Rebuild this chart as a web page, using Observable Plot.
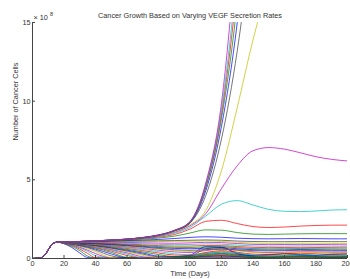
<!DOCTYPE html>
<html><head><meta charset="utf-8">
<script src="https://cdn.jsdelivr.net/npm/d3@7"></script>
<script src="https://cdn.jsdelivr.net/npm/@observablehq/plot@0.6"></script>
<style>body{margin:0;background:#fff}</style>
</head><body><div id="chart"></div>
<script>
const titleText = "Cancer Growth Based on Varying VEGF Secretion Rates";
const xLabel = "Time (Days)";
const yLabel = "Number of Cancer Cells";
const xTicks = [0,20,40,60,80,100,120,140,160,180,200];
const yTicks = [0,5,10,15];
const matlabColors = ["#0000ff","#008000","#ff0000","#00bfbf","#bf00bf","#bfbf00","#404040"];

// shared initial growth (days, ×10^8 cells)
const riseDays = [0,4,6,8,10,12,14,16];
const riseValues = [0,0.01,0.06,0.25,0.55,0.85,1.0,1.04];

// sample days for the remainder of every curve
const tailDays = [20,25,30,35,40,50,60,70,80,90,100,110,120,130,140,150,160,170,180,190,200];

// lowest VEGF rates: cells die back
const fanCurves = [
 [0.94,0.70,0.35,0.06,0.03,0.02,0.02,0.02,0.02,0.02,0.02,0.03,0.03,0.02,0.02,0.02,0.02,0.02,0.02,0.02,0.02],
 [0.95,0.77,0.50,0.15,0.03,0.02,0.02,0.02,0.02,0.02,0.03,0.04,0.04,0.03,0.02,0.02,0.02,0.03,0.03,0.02,0.02],
 [0.96,0.82,0.60,0.32,0.05,0.02,0.02,0.02,0.02,0.03,0.03,0.05,0.05,0.04,0.03,0.03,0.03,0.03,0.03,0.03,0.03],
 [0.97,0.85,0.67,0.45,0.18,0.03,0.02,0.02,0.03,0.03,0.04,0.06,0.07,0.05,0.04,0.04,0.04,0.05,0.04,0.04,0.04],
 [0.97,0.87,0.72,0.53,0.31,0.04,0.03,0.03,0.03,0.04,0.05,0.08,0.09,0.07,0.05,0.05,0.06,0.06,0.05,0.05,0.05],
 [0.98,0.90,0.78,0.62,0.44,0.06,0.03,0.03,0.04,0.04,0.06,0.10,0.12,0.09,0.06,0.06,0.07,0.08,0.07,0.06,0.06],
 [0.98,0.91,0.81,0.69,0.53,0.17,0.03,0.03,0.04,0.05,0.07,0.12,0.15,0.11,0.07,0.07,0.09,0.10,0.08,0.07,0.08],
 [0.98,0.93,0.84,0.73,0.60,0.29,0.04,0.03,0.04,0.05,0.08,0.15,0.18,0.13,0.08,0.08,0.10,0.12,0.10,0.08,0.09],
 [0.99,0.94,0.86,0.77,0.66,0.39,0.07,0.03,0.04,0.06,0.10,0.18,0.22,0.16,0.10,0.09,0.12,0.14,0.12,0.10,0.10],
 [0.99,0.95,0.88,0.80,0.70,0.47,0.19,0.04,0.05,0.07,0.12,0.22,0.27,0.20,0.12,0.11,0.14,0.16,0.14,0.12,0.12],
 [0.99,0.95,0.90,0.82,0.74,0.53,0.28,0.05,0.05,0.08,0.14,0.27,0.33,0.24,0.14,0.13,0.16,0.18,0.16,0.14,0.15],
 [0.99,0.96,0.91,0.84,0.77,0.58,0.36,0.11,0.05,0.09,0.17,0.32,0.40,0.28,0.17,0.15,0.19,0.21,0.18,0.16,0.17],
 [0.99,0.96,0.92,0.86,0.79,0.63,0.43,0.20,0.06,0.10,0.20,0.38,0.46,0.32,0.19,0.17,0.22,0.24,0.20,0.18,0.20],
 [0.99,0.97,0.93,0.87,0.81,0.66,0.48,0.28,0.10,0.08,0.15,0.62,0.70,0.35,0.20,0.25,0.30,0.22,0.18,0.24,0.22],
 [1.00,0.97,0.93,0.88,0.83,0.69,0.53,0.35,0.15,0.12,0.22,0.75,0.72,0.30,0.18,0.22,0.32,0.25,0.20,0.28,0.30]
];

// low-intermediate rates: partial die-back, then a steady level
const plateauCurves = [
 [1.00,0.98,0.95,0.90,0.85,0.73,0.58,0.42,0.25,0.12,0.10,0.25,0.32,0.22,0.12,0.10,0.13,0.15,0.12,0.10,0.12],
 [1.00,0.98,0.96,0.92,0.87,0.77,0.64,0.50,0.35,0.22,0.20,0.38,0.50,0.40,0.28,0.25,0.30,0.33,0.30,0.27,0.30],
 [1.00,0.98,0.96,0.93,0.89,0.80,0.69,0.57,0.44,0.30,0.24,0.32,0.42,0.35,0.22,0.17,0.20,0.24,0.22,0.19,0.20],
 [1.00,0.99,0.97,0.94,0.91,0.83,0.74,0.64,0.53,0.42,0.38,0.50,0.60,0.52,0.42,0.38,0.40,0.43,0.42,0.40,0.40],
 [1.00,0.99,0.97,0.95,0.92,0.86,0.78,0.69,0.60,0.50,0.45,0.55,0.62,0.50,0.38,0.33,0.36,0.40,0.38,0.35,0.35],
 [1.00,0.99,0.98,0.96,0.94,0.88,0.81,0.73,0.64,0.56,0.52,0.56,0.60,0.55,0.50,0.48,0.50,0.52,0.50,0.48,0.48],
 [1.01,1.00,0.99,0.97,0.95,0.90,0.84,0.77,0.70,0.64,0.62,0.66,0.68,0.62,0.56,0.54,0.55,0.57,0.56,0.54,0.53],
 [1.02,1.01,1.00,0.99,0.97,0.93,0.88,0.82,0.76,0.71,0.70,0.74,0.75,0.69,0.63,0.61,0.62,0.63,0.62,0.61,0.60],
 [1.03,1.02,1.01,1.00,0.99,0.96,0.92,0.87,0.82,0.79,0.79,0.83,0.82,0.76,0.71,0.69,0.70,0.71,0.70,0.69,0.68],
 [1.04,1.04,1.03,1.03,1.02,1.00,0.97,0.93,0.90,0.88,0.89,0.93,0.91,0.85,0.80,0.78,0.79,0.80,0.79,0.78,0.77],
 [1.04,1.05,1.05,1.05,1.05,1.04,1.02,1.00,0.98,0.97,0.99,1.03,1.01,0.95,0.90,0.88,0.89,0.90,0.89,0.88,0.87],
 [1.05,1.06,1.07,1.08,1.08,1.09,1.09,1.08,1.08,1.09,1.10,1.12,1.09,1.03,0.98,0.96,0.97,0.98,0.97,0.96,0.95]
];

// intermediate rates: growth to a new equilibrium
const midCurves = [
 [1.05,1.06,1.07,1.08,1.09,1.10,1.11,1.12,1.13,1.14,1.16,1.18,1.16,1.11,1.08,1.07,1.07,1.08,1.08,1.07,1.07],
 [1.05,1.06,1.07,1.09,1.10,1.12,1.14,1.17,1.21,1.27,1.34,1.38,1.35,1.29,1.26,1.25,1.26,1.27,1.26,1.25,1.25],
 [1.05,1.06,1.08,1.09,1.11,1.14,1.18,1.23,1.30,1.42,1.62,1.82,1.80,1.65,1.55,1.53,1.55,1.57,1.58,1.58,1.58],
 [1.05,1.06,1.08,1.10,1.11,1.15,1.20,1.27,1.36,1.52,1.87,2.36,2.43,2.22,2.03,1.97,2.00,2.06,2.10,2.12,2.12],
 [1.05,1.06,1.08,1.10,1.12,1.16,1.21,1.29,1.40,1.60,1.98,2.70,3.45,3.68,3.40,3.12,3.00,2.98,3.02,3.08,3.10],
 [1.05,1.06,1.08,1.10,1.12,1.16,1.22,1.30,1.43,1.66,2.08,2.85,4.45,5.90,6.85,7.05,6.95,6.72,6.47,6.30,6.20]
];

// highest rates: runaway growth
const boomCurves = [
 [1.05,1.06,1.08,1.10,1.12,1.17,1.22,1.31,1.45,1.70,2.15,3.05,5.60,9.60,13.9,17.5,null,null,null,null,null],
 [1.05,1.06,1.08,1.10,1.12,1.17,1.23,1.32,1.47,1.75,2.25,4.00,7.60,13.2,21.0,null,null,null,null,null,null],
 [1.05,1.06,1.08,1.10,1.12,1.17,1.23,1.32,1.48,1.76,2.28,4.30,8.40,15.0,25.0,null,null,null,null,null,null],
 [1.05,1.06,1.08,1.10,1.12,1.17,1.23,1.33,1.48,1.77,2.30,4.50,8.90,16.3,28.0,null,null,null,null,null,null],
 [1.05,1.06,1.08,1.10,1.12,1.17,1.23,1.33,1.49,1.78,2.32,4.60,9.20,17.5,30.0,null,null,null,null,null,null],
 [1.05,1.06,1.08,1.10,1.12,1.17,1.23,1.33,1.49,1.78,2.34,4.70,9.50,18.5,32.0,null,null,null,null,null,null],
 [1.05,1.06,1.08,1.10,1.12,1.17,1.23,1.34,1.50,1.79,2.36,4.80,9.90,20.5,35.0,null,null,null,null,null,null]
];

const allCurves = [...fanCurves, ...plateauCurves, ...midCurves, ...boomCurves];
const rows = [];
allCurves.forEach((vals, i) => {
  const color = matlabColors[i % matlabColors.length];
  riseDays.forEach((d, k) => rows.push({curve: i, color, day: d, value: riseValues[k]}));
  tailDays.forEach((d, k) => { if (vals[k] != null) rows.push({curve: i, color, day: d, value: vals[k]}); });
});

const fs = 7.3;
const chart = Plot.plot({
  width: 350, height: 279,
  marginLeft: 32, marginRight: 3, marginTop: 22, marginBottom: 21,
  style: {fontFamily: "'Liberation Sans', Arial, sans-serif", fontSize: fs + "px", color: "#333", background: "#fff"},
  x: {domain: [0, 200]},
  y: {domain: [0, 15]},
  marks: [
    Plot.line(rows, {x: "day", y: "value", z: "curve", stroke: "color", strokeWidth: 0.9, strokeOpacity: 0.8, curve: "monotone-x", clip: true}),
    Plot.ruleX([0], {stroke: "#444"}),
    Plot.ruleY([0], {stroke: "#444"}),
    Plot.tickX(xTicks, {x: d => d, insetTop: 233, stroke: "#444"}),
    Plot.tickY(yTicks, {y: d => d, insetRight: 312, stroke: "#444"}),
    Plot.axisX({ticks: xTicks, tickSize: 0, tickPadding: 2, label: null, fill: "#333"}),
    Plot.axisY({ticks: yTicks, tickSize: 0, tickPadding: 2, label: null, fill: "#333"}),
    Plot.text([titleText], {frameAnchor: "top", dy: -7, lineAnchor: "middle", fontSize: fs, fill: "#333"}),
    Plot.text([xLabel], {frameAnchor: "bottom", dy: 15, lineAnchor: "middle", fontSize: fs, fill: "#333"}),
    Plot.text([yLabel], {frameAnchor: "left", dx: -17, rotate: -90, lineAnchor: "middle", fontSize: fs, fill: "#333"}),
    Plot.text(["× 10"], {frameAnchor: "top-left", dx: 1, dy: -5, textAnchor: "start", lineAnchor: "middle", fontSize: fs, fill: "#333"}),
    Plot.text(["8"], {frameAnchor: "top-left", dx: 17.5, dy: -8, textAnchor: "start", lineAnchor: "middle", fontSize: 5.5, fill: "#333"})
  ]
});
document.getElementById("chart").appendChild(chart);
</script>
</body></html>
